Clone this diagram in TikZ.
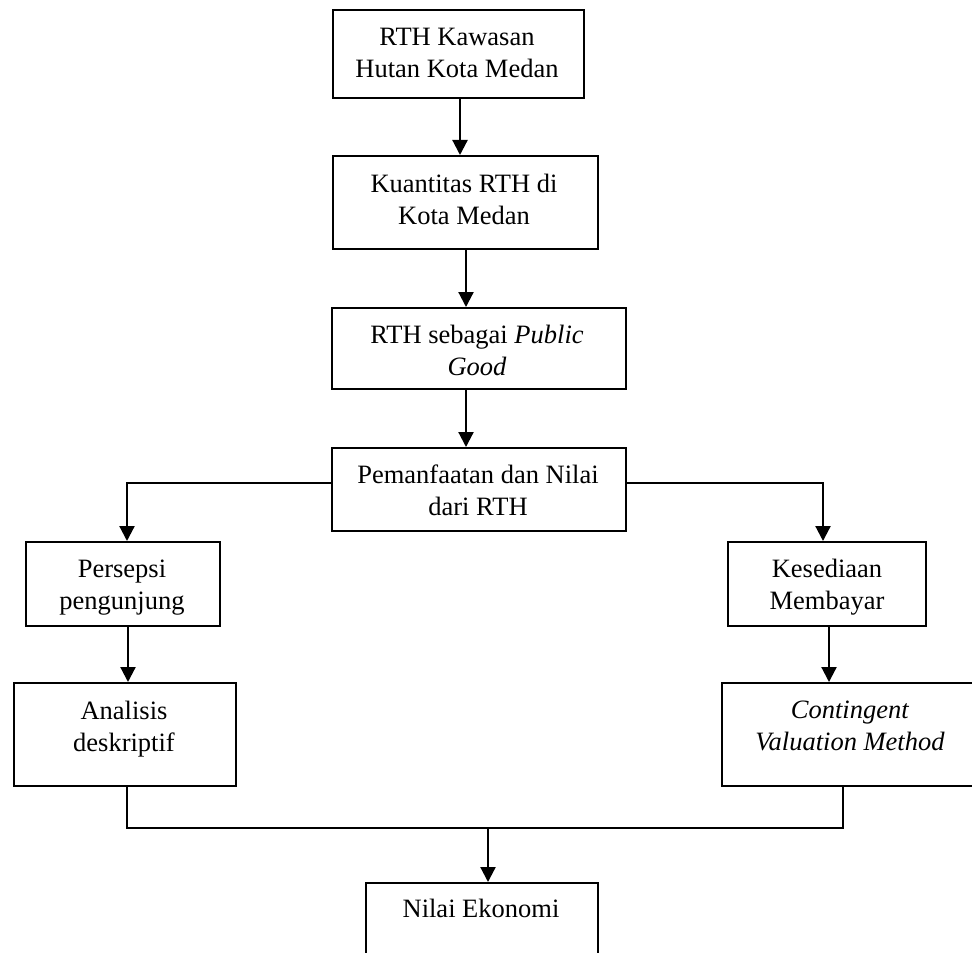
\documentclass[tikz,border=0pt]{standalone}
\usepackage{fontspec}
\setmainfont{Liberation Serif}
\usetikzlibrary{arrows.meta,calc}
\begin{document}
\begin{tikzpicture}[x=0.5pt,y=-0.5pt,
  box/.style={draw, line width=0.9pt, inner sep=0pt, anchor=north west},
  lbl/.style={inner sep=0pt, anchor=base, align=center, font=\fontsize{13.25pt}{16pt}\selectfont},
  arr/.style={line width=1.1pt, -{Triangle[length=7.5pt,width=7.5pt]}},
  ln/.style={line width=0.8pt}]
\useasboundingbox (0,0) rectangle (972,952);
\clip (0,0) rectangle (972,952);
% boxes
\node[box, minimum width=125.5pt, minimum height=44pt]   (b1) at (332,9)   {};
\node[box, minimum width=132.5pt, minimum height=46.5pt] (b2) at (332,155) {};
\node[box, minimum width=147pt,   minimum height=40.5pt] (b3) at (331,307) {};
\node[box, minimum width=147pt,   minimum height=41.5pt] (b4) at (331,447) {};
\node[box, minimum width=97pt,    minimum height=42pt]   (p1) at (25,541)  {};
\node[box, minimum width=111pt,   minimum height=51.5pt] (a1) at (13,682)  {};
\node[box, minimum width=99pt,    minimum height=42pt]   (k1) at (727,541) {};
\node[box, minimum width=129pt,   minimum height=51.5pt] (c1) at (721,682) {};
\node[box, minimum width=116pt,   minimum height=40pt]   (n1) at (365,882) {};
% labels (anchor = baseline of last line)
\node[lbl] (t1) at (457,78)  {RTH Kawasan\\Hutan Kota Medan};
\node[lbl] (t2) at (464,224) {Kuantitas RTH di\\Kota Medan};
\node[lbl] (t3) at (477,375) {RTH sebagai \textit{Public}\\\textit{Good}};
\node[lbl] (t4) at (478,515) {Pemanfaatan dan Nilai\\dari RTH};
\node[lbl] (t5) at (122,609) {Persepsi\\pengunjung};
\node[lbl] (t6) at (124,751) {Analisis\\deskriptif};
\node[lbl] (t7) at (827,609) {Kesediaan\\Membayar};
\node[lbl] (t8) at (850,750) {\textit{Contingent}\\\textit{Valuation Method}};
\node[lbl] (t9) at (481,917) {Nilai Ekonomi};
% helper coordinates
\coordinate (x1) at (460,0);
\coordinate (x2) at (466,0);
\coordinate (l1) at (127,483);
\coordinate (r1) at (823,483);
\coordinate (xl) at (128,0);
\coordinate (xr) at (829,0);
\coordinate (bl) at (127,828);
\coordinate (br) at (843,828);
\coordinate (bm) at (488,828);
% connectors
\draw[arr] (b1.south -| x1) -- (b2.north -| x1);
\draw[arr] (b2.south -| x2) -- (b3.north -| x2);
\draw[arr] (b3.south -| x2) -- (b4.north -| x2);
\draw[arr] (b4.west |- l1) -| (p1.north -| l1);
\draw[arr] (b4.east |- r1) -| (k1.north -| r1);
\draw[arr] (p1.south -| xl) -- (a1.north -| xl);
\draw[arr] (k1.south -| xr) -- (c1.north -| xr);
\draw[ln] (a1.south -| bl) -- (bl) -- (br) -- (c1.south -| br);
\draw[arr] (bm) -- (n1.north -| bm);
\end{tikzpicture}
\end{document}
